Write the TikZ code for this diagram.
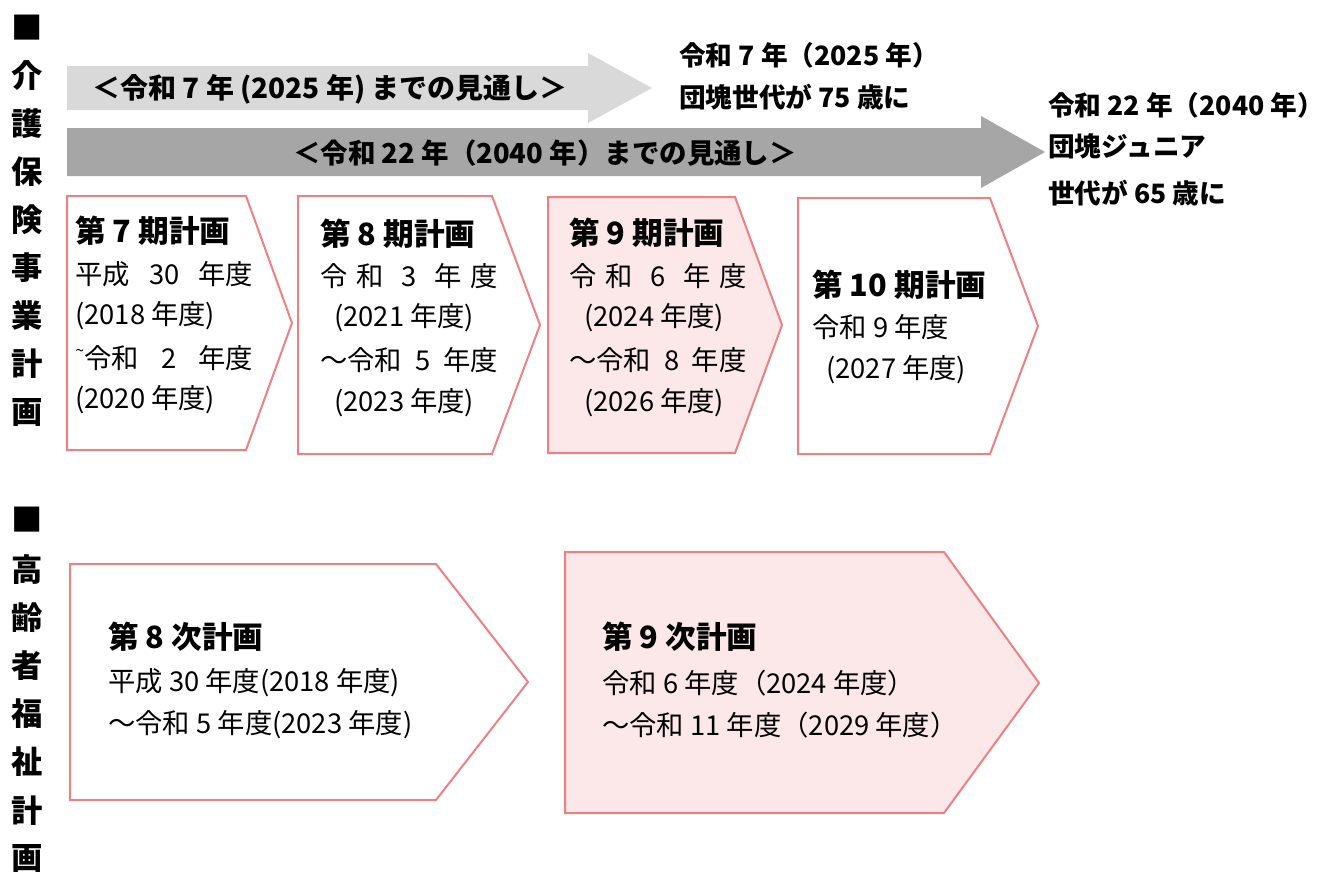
\documentclass[tikz,border=0pt]{standalone}
\usepackage{fontspec}
\setmainfont{Noto Sans CJK JP}
\definecolor{pinkline}{RGB}{238,128,132}
\definecolor{pinkfill}{RGB}{252,232,233}
\definecolor{lightarr}{RGB}{217,217,217}
\definecolor{darkarr}{RGB}{166,166,166}
\newcommand\spr[2]{\makebox[#1][s]{#2}}
\newcommand\smtilde{\raisebox{0.45em}{\fontsize{12}{12}\selectfont\textasciitilde}}
\begin{document}
\begin{tikzpicture}[x=0.75pt,y=-0.75pt,
  pk/.style={draw=pinkline,line width=1.5pt,line join=miter,fill=white},
  pkf/.style={pk,fill=pinkfill},
  side/.style={inner sep=0pt,font=\fontsize{23.5}{23.5}\selectfont\bfseries},
  ttl/.style={anchor=west,inner sep=0pt,font=\fontsize{23}{23}\selectfont\bfseries},
  bd/.style={anchor=west,inner sep=0pt,font=\fontsize{20.5}{20.5}\selectfont},
  lab/.style={anchor=west,inner sep=0pt,font=\fontsize{20}{20}\selectfont\bfseries},
  arrtext/.style={inner sep=0pt,font=\fontsize{20.6}{20.6}\selectfont\bfseries}]
\useasboundingbox (0,0) rectangle (1324,871);

% side headings
\node[side] (sq1) at (27,28) {■};
\foreach \c [count=\i] in {介,護,保,険,事,業,計,画}
  \node[side] (ka\i) at (27,28+48*\i) {\c};
\node[side] (sq2) at (27,520) {■};
\foreach \c [count=\i] in {高,齢,者,福,祉,計,画}
  \node[side] (ko\i) at (27,521+48.2*\i) {\c};

% outlook arrows
\fill[lightarr] (67,66) -- (588,66) -- (588,53) -- (652,88) -- (588,123) -- (588,110) -- (67,110) -- cycle;
\fill[darkarr] (67,128) -- (981,128) -- (981,116) -- (1045,152) -- (981,188) -- (981,176) -- (67,176) -- cycle;
\node[arrtext,font=\fontsize{21}{21}\selectfont\bfseries] (a1) at (330,89) {＜令和 7 年 (2025 年) までの見通し＞};
\node[arrtext] (a2) at (545,153) {＜令和 22 年（2040 年）までの見通し＞};

% right labels
\node[lab] (r1) at (679,55) {令和 7 年（2025 年）};
\node[lab] (r2) at (679,97) {団塊世代が 75 歳に};
\node[lab] (r3) at (1048,105) {令和 22 年（2040 年）};
\node[lab] (r4) at (1048,146) {団塊ジュニア};
\node[lab] (r5) at (1048,193) {世代が 65 歳に};

% kaigo plan chevrons
\draw[pk]  (67,196) -- (246,196) -- (292,323) -- (246,450) -- (67,450) -- cycle;
\draw[pk]  (298,196) -- (492,196) -- (540,325) -- (492,454) -- (298,454) -- cycle;
\draw[pkf] (548,197) -- (735,197) -- (782,325) -- (735,453) -- (548,453) -- cycle;
\draw[pk]  (798,198) -- (990,198) -- (1038,326) -- (990,454) -- (798,454) -- cycle;

\node[ttl] (b1t) at (75,231) {第 7 期計画};
\node[bd] (b1a) at (75,274) {\spr{133.5pt}{平成\hfill 30\hfill 年度}};
\node[bd] (b1b) at (75,316) {(2018 年度)};
\node[bd] (b1c) at (75,358) {\spr{133.5pt}{\smtilde 令和\hfill 2\hfill 年度}};
\node[bd] (b1d) at (75,400) {(2020 年度)};

\node[ttl] (b2t) at (320,234) {第 8 期計画};
\node[bd] (b2a) at (320,276) {\spr{133.5pt}{令\hfill 和\hfill\hfill 3\hfill\hfill 年\hfill 度}};
\node[bd] (b2b) at (334,318) {(2021 年度)};
\node[bd] (b2c) at (320,360) {\spr{133.5pt}{～令和\hfill 5\hfill 年度}};
\node[bd] (b2d) at (334,403) {(2023 年度)};

\node[ttl] (b3t) at (569,233) {第 9 期計画};
\node[bd] (b3a) at (569,276) {\spr{133pt}{令\hfill 和\hfill\hfill 6\hfill\hfill 年\hfill 度}};
\node[bd] (b3b) at (584,318) {(2024 年度)};
\node[bd] (b3c) at (569,360) {\spr{133pt}{～令和\hfill 8\hfill 年度}};
\node[bd] (b3d) at (584,403) {(2026 年度)};

\node[ttl] (b4t) at (812,285) {第 10 期計画};
\node[bd] (b4a) at (812,327) {令和 9 年度};
\node[bd] (b4b) at (826,370) {(2027 年度)};

% koureisha plan chevrons
\draw[pk]  (70,564) -- (436,564) -- (528,682) -- (436,800) -- (70,800) -- cycle;
\draw[pkf] (565,552) -- (944,552) -- (1039,683) -- (944,813) -- (565,813) -- cycle;

\node[ttl] (c1t) at (108,637) {第 8 次計画};
\node[bd] (c1a) at (108,683) {平成 30 年度(2018 年度)};
\node[bd] (c1b) at (108,725) {～令和 5 年度(2023 年度)};

\node[ttl] (c2t) at (602,637) {第 9 次計画};
\node[bd] (c2a) at (602,683) {令和 6 年度（2024 年度）};
\node[bd] (c2b) at (602,725) {～令和 11 年度（2029 年度）};
\end{tikzpicture}
\end{document}
